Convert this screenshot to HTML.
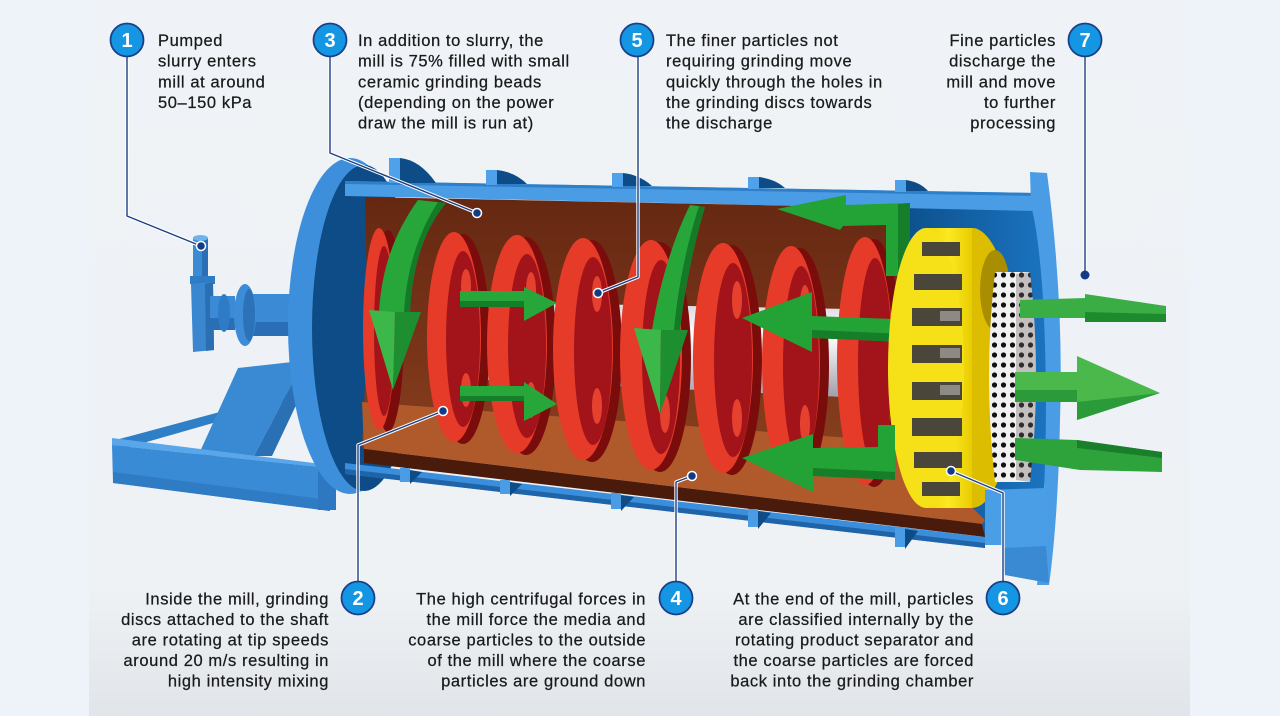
<!DOCTYPE html>
<html><head><meta charset="utf-8"><style>
html,body{margin:0;padding:0;background:#eef3fa;}
svg{display:block}
text{font-family:"Liberation Sans",sans-serif;}
.t{font-size:16.5px;fill:#1a1a1a;letter-spacing:0.6px;stroke:#1a1a1a;stroke-width:0.25px}
.n{font-size:20px;font-weight:bold;fill:#fff}
</style></head><body>
<svg width="1280" height="716" viewBox="0 0 1280 716" xmlns="http://www.w3.org/2000/svg">
<defs>
 <linearGradient id="bg" x1="0" y1="0" x2="0" y2="1">
  <stop offset="0" stop-color="#eff3f7"/>
  <stop offset="0.82" stop-color="#eef2f5"/>
  <stop offset="1" stop-color="#e1e5e9"/>
 </linearGradient>
 <linearGradient id="brown" x1="0" y1="0" x2="0" y2="1">
  <stop offset="0" stop-color="#662812"/>
  <stop offset="0.6" stop-color="#7a3519"/>
  <stop offset="1" stop-color="#8a421e"/>
 </linearGradient>
 <linearGradient id="shaft" x1="0" y1="0" x2="0" y2="1">
  <stop offset="0" stop-color="#d6d6de"/><stop offset="0.35" stop-color="#ffffff"/><stop offset="1" stop-color="#9c9aa6"/>
 </linearGradient>
 <linearGradient id="yel" x1="0" y1="0" x2="1" y2="0">
  <stop offset="0" stop-color="#f2d800"/><stop offset="0.5" stop-color="#fbe924"/><stop offset="1" stop-color="#e9cc00"/>
 </linearGradient>
 <linearGradient id="nav" x1="0" y1="0" x2="1" y2="0">
  <stop offset="0" stop-color="#0c4f8c"/><stop offset="1" stop-color="#1b74c0"/>
 </linearGradient>
 <pattern id="dots" width="9" height="10" patternUnits="userSpaceOnUse">
  <rect width="9" height="10" fill="#f1f1f1"/>
  <circle cx="4.5" cy="5" r="2.6" fill="#111"/>
 </pattern>
</defs>
<rect width="1280" height="716" fill="#eef3fa"/>
<rect x="89" width="1101" height="716" fill="url(#bg)"/>

<!-- ===== base frame ===== -->
<polygon points="112,441 290,393 297,399 122,449" fill="#2f7fc6"/>
<polygon points="198,456 238,368 292,362 298,372 254,456" fill="#3a8ad3"/>
<polygon points="254,456 298,372 308,380 272,456" fill="#2a70b5"/>
<polygon points="112,438 322,464 330,468 112,445" fill="#5aa6ea"/>
<polygon points="112,445 330,468 330,511 113,483" fill="#3a8bd6"/>
<polygon points="113,472 330,500 330,511 113,483" fill="#2f7cc4"/>
<rect x="318" y="466" width="18" height="44" fill="#2d78c0"/>

<!-- ===== feed pipe ===== -->
<rect x="193" y="238" width="15" height="42" fill="#3b8ad6"/>
<rect x="202" y="238" width="6" height="42" fill="#2a6fb5"/>
<ellipse cx="200.5" cy="238" rx="7.5" ry="3" fill="#6fb3ee"/>
<rect x="190" y="276" width="25" height="8" fill="#2f7cc6"/>
<polygon points="191,284 213,282 214,350 193,352" fill="#3a86cf"/>
<polygon points="205,284 213,282 214,350 206,351" fill="#2b6fb3"/>
<rect x="210" y="296" width="25" height="34" fill="#3b8ad6"/>
<rect x="210" y="318" width="25" height="12" fill="#2a6fb5"/>
<ellipse cx="224" cy="313" rx="6" ry="19" fill="#2f7cc6"/>
<rect x="248" y="294" width="50" height="42" fill="#3b8ad6"/>
<rect x="248" y="322" width="50" height="14" fill="#2a6fb5"/>
<ellipse cx="245" cy="315" rx="11" ry="31" fill="#3d8cd8"/>
<ellipse cx="249" cy="315" rx="6" ry="26" fill="#2b72b8"/>

<!-- ===== left end plate ===== -->
<ellipse cx="350" cy="326" rx="62" ry="168" fill="#3d8fdc"/>
<ellipse cx="364" cy="328" rx="52" ry="163" fill="#0d4c86"/>

<!-- ===== discharge inner region ===== -->
<polygon points="900,206 1036,210 1046,300 1047,450 1040,540 985,538 900,500" fill="url(#nav)"/>

<!-- ===== shell top band + ribs ===== -->
<polygon points="345,181 1036,193 1036,211 345,196" fill="#4a9de5"/>
<polygon points="345,181 1036,193 1036,196 345,184" fill="#2f7fc8"/>
<rect x="389" y="158" width="11" height="25" fill="#4fa2ea"/>
<path d="M400,158 Q420,160 436,183 L400,183 Z" fill="#0d4c86"/>
<rect x="486" y="170" width="11" height="15" fill="#4fa2ea"/>
<path d="M497,170 Q515,172 527,184 L497,184 Z" fill="#0d4c86"/>
<rect x="612" y="173" width="11" height="14" fill="#4fa2ea"/>
<path d="M623,173 Q640,175 652,186 L623,186 Z" fill="#0d4c86"/>
<rect x="748" y="177" width="11" height="12" fill="#4fa2ea"/>
<path d="M759,177 Q775,179 785,188 L759,188 Z" fill="#0d4c86"/>
<rect x="895" y="180" width="11" height="12" fill="#4fa2ea"/>
<path d="M906,180 Q920,182 928,191 L906,191 Z" fill="#0d4c86"/>

<!-- ===== interior brown ===== -->
<path d="M365,197 L905,208 L905,470 L362,447 Q369,330 365,197 Z" fill="url(#brown)"/>
<!-- floor -->
<polygon points="362,402 905,442 985,520 982,524 364,449" fill="#b05a2b"/>
<polygon points="364,449 982,524 985,537 364,463" fill="#4a1a0a"/>
<!-- bottom shell band -->
<polygon points="345,463 985,537 985,548 345,474" fill="#3a8edb"/>
<polygon points="345,469 985,543 985,548 345,474" fill="#1f64a8"/>
<!-- bottom ribs -->
<rect x="400" y="468" width="10" height="14" fill="#4a9de5"/><polygon points="410,470 422,472 410,484" fill="#0d4c86"/>
<rect x="500" y="480" width="10" height="14" fill="#4a9de5"/><polygon points="510,482 522,484 510,496" fill="#0d4c86"/>
<rect x="611" y="493" width="10" height="16" fill="#4a9de5"/><polygon points="621,495 634,497 621,511" fill="#0d4c86"/>
<rect x="748" y="509" width="10" height="18" fill="#4a9de5"/><polygon points="758,511 771,513 758,529" fill="#0d4c86"/>
<rect x="895" y="527" width="10" height="20" fill="#4a9de5"/><polygon points="905,529 918,531 905,549" fill="#0d4c86"/>

<!-- ===== shaft ===== -->
<polygon points="470,302 905,310 905,400 470,379" fill="url(#shaft)"/>

<!-- ===== discs ===== -->
<g>
 <ellipse cx="388" cy="331" rx="16" ry="101" fill="#7a0c0c"/>
 <ellipse cx="379" cy="329" rx="16" ry="101" fill="#e63b29"/>
 <ellipse cx="384" cy="331" rx="10" ry="85" fill="#a3141a"/>
</g>
<g>
 <ellipse cx="463" cy="339" rx="27" ry="105" fill="#7a0c0c"/>
 <ellipse cx="454" cy="337" rx="27" ry="105" fill="#e63b29"/>
 <ellipse cx="463" cy="339" rx="17" ry="88" fill="#a3141a"/>
 <ellipse cx="466" cy="286" rx="5" ry="17" fill="#e5412e"/>
 <ellipse cx="466" cy="390" rx="5" ry="17" fill="#e5412e"/>
</g>
<g>
 <ellipse cx="526" cy="346" rx="30" ry="109" fill="#7a0c0c"/>
 <ellipse cx="517" cy="344" rx="30" ry="109" fill="#e63b29"/>
 <ellipse cx="527" cy="346" rx="19" ry="92" fill="#a3141a"/>
 <ellipse cx="531" cy="290" rx="5" ry="18" fill="#e5412e"/>
 <ellipse cx="531" cy="400" rx="5" ry="18" fill="#e5412e"/>
</g>
<g>
 <ellipse cx="592" cy="351" rx="30" ry="111" fill="#7a0c0c"/>
 <ellipse cx="583" cy="349" rx="30" ry="111" fill="#e63b29"/>
 <ellipse cx="593" cy="351" rx="19" ry="94" fill="#a3141a"/>
 <ellipse cx="597" cy="294" rx="5" ry="18" fill="#e5412e"/>
 <ellipse cx="597" cy="406" rx="5" ry="18" fill="#e5412e"/>
</g>
<g>
 <ellipse cx="660" cy="357" rx="31" ry="115" fill="#7a0c0c"/>
 <ellipse cx="651" cy="355" rx="31" ry="115" fill="#e63b29"/>
 <ellipse cx="661" cy="357" rx="19" ry="97" fill="#a3141a"/>
 <ellipse cx="665" cy="298" rx="5" ry="19" fill="#e5412e"/>
 <ellipse cx="665" cy="414" rx="5" ry="19" fill="#e5412e"/>
</g>
<g>
 <ellipse cx="732" cy="360" rx="30" ry="115" fill="#7a0c0c"/>
 <ellipse cx="723" cy="358" rx="30" ry="115" fill="#e63b29"/>
 <ellipse cx="733" cy="360" rx="19" ry="97" fill="#a3141a"/>
 <ellipse cx="737" cy="300" rx="5" ry="19" fill="#e5412e"/>
 <ellipse cx="737" cy="418" rx="5" ry="19" fill="#e5412e"/>
</g>
<g>
 <ellipse cx="800" cy="365" rx="29" ry="117" fill="#7a0c0c"/>
 <ellipse cx="791" cy="363" rx="29" ry="117" fill="#e63b29"/>
 <ellipse cx="801" cy="365" rx="18" ry="99" fill="#a3141a"/>
 <ellipse cx="805" cy="304" rx="5" ry="19" fill="#e5412e"/>
 <ellipse cx="805" cy="424" rx="5" ry="19" fill="#e5412e"/>
</g>
<g>
 <ellipse cx="874" cy="363" rx="28" ry="124" fill="#7a0c0c"/>
 <ellipse cx="865" cy="361" rx="28" ry="124" fill="#e63b29"/>
 <ellipse cx="875" cy="363" rx="17" ry="105" fill="#a3141a"/>
</g>

<!-- ===== green arrows inside ===== -->
<path d="M418,200 C400,225 382,260 379,312 L410,312 C412,265 425,228 446,203 Z" fill="#27a63a"/>
<path d="M438,202 C420,230 407,265 404,312 L410,312 C412,265 425,228 446,203 Z" fill="#147a27"/>
<polygon points="369,310 395,312 393,390" fill="#3cb84b"/>
<polygon points="395,312 421,312 393,390" fill="#1d8f30"/>

<path d="M690,205 C675,235 660,280 652,330 L680,330 C685,285 695,240 705,207 Z" fill="#27a63a"/>
<path d="M699,206 C688,240 678,285 674,330 L680,330 C685,285 695,240 705,207 Z" fill="#147a27"/>
<polygon points="634,328 661,330 660,414" fill="#3cb84b"/>
<polygon points="661,330 688,330 660,414" fill="#1d8f30"/>

<polygon points="460,291 524,291 524,287 557,303 524,321 524,307 460,307" fill="#27a63a"/>
<polygon points="460,301 524,301 524,307 460,307" fill="#167e29"/>
<polygon points="460,386 524,386 524,382 557,404 524,421 524,401 460,401" fill="#27a63a"/>
<polygon points="460,396 524,396 524,401 460,401" fill="#167e29"/>

<path d="M777,209 L846,195 L846,205 L910,203 L910,276 L886,276 L886,225 L843,226 L840,230 Z" fill="#23a236"/>
<path d="M898,204 L910,203 L910,276 L898,276 Z" fill="#167e29"/>
<path d="M742,318 L812,292 L812,316 L948,321 L950,344 L812,338 L812,352 Z" fill="#23a236"/>
<path d="M812,330 L950,336 L950,344 L812,338 Z" fill="#167e29"/>

<!-- ===== yellow separator ===== -->
<ellipse cx="972" cy="368" rx="44" ry="140" fill="#dcbd00"/>
<rect x="926" y="228" width="46" height="280" fill="url(#yel)"/>
<ellipse cx="926" cy="368" rx="38" ry="140" fill="#f6e018"/>
<ellipse cx="995" cy="290" rx="15" ry="40" fill="#a88e00"/>
<g fill="#4a463a">
 <rect x="922" y="242" width="38" height="14"/>
 <rect x="914" y="274" width="48" height="16"/>
 <rect x="912" y="308" width="50" height="18"/>
 <rect x="912" y="345" width="50" height="18"/>
 <rect x="912" y="382" width="50" height="18"/>
 <rect x="912" y="418" width="50" height="18"/>
 <rect x="914" y="452" width="48" height="16"/>
 <rect x="922" y="482" width="38" height="14"/>
</g>
<g fill="#8d8a86">
 <rect x="940" y="311" width="20" height="10"/>
 <rect x="940" y="348" width="20" height="10"/>
 <rect x="940" y="385" width="20" height="10"/>
</g>

<!-- bottom L arrow -->
<path d="M742,458 L813,434 L813,448 L878,447 L878,425 L895,425 L895,480 L813,476 L813,492 Z" fill="#23a236"/>
<path d="M813,468 L895,472 L895,480 L813,476 Z" fill="#167e29"/>

<!-- ===== perforated drum ===== -->
<path d="M995,272 L1030,272 Q1042,376 1030,482 L995,482 Q983,376 995,272 Z" fill="url(#dots)"/>
<path d="M1016,274 L1030,272 Q1042,376 1030,482 L1016,480 Z" fill="#6d6060" opacity="0.35"/>

<!-- ===== right end flange ===== -->
<path d="M1030,172 L1047,173 Q1064,300 1060,420 Q1058,520 1049,585 L1037,585 Q1046,500 1046,400 Q1045,260 1031,205 Z" fill="#4a9de5"/>
<polygon points="985,490 1046,488 1049,583 1005,575 1003,545 985,545" fill="#4a9ee6"/>
<polygon points="1003,548 1046,546 1049,583 1005,575" fill="#3a8ad3"/>

<!-- ===== output arrows ===== -->
<polygon points="1020,300 1085,298 1085,294 1166,306 1166,322 1085,322 1085,318 1020,318" fill="#3aae45"/>
<polygon points="1085,312 1166,314 1166,322 1085,322" fill="#1e8a2e"/>
<polygon points="1015,372 1077,372 1077,356 1160,393 1077,420 1077,402 1015,402" fill="#4ab84a"/>
<polygon points="1015,390 1077,390 1077,402 1015,402" fill="#2b9a38"/>
<polygon points="1077,402 1077,420 1160,393" fill="#2b9a38"/>
<polygon points="1015,438 1077,440 1162,452 1162,472 1080,470 1015,460" fill="#2ea33c"/>
<polygon points="1077,440 1162,452 1162,458 1077,448" fill="#1a7f2a"/>

<!-- ===== leader lines ===== -->
<g fill="none" stroke="#ffffff" stroke-width="3.4" stroke-linejoin="round">
 <path d="M127,57 V216 L201,246"/>
 <path d="M330,57 V153 L477,213"/>
 <path d="M638,57 V277 L598,293"/>
 <path d="M1085,57 V275"/>
 <path d="M358,582 V445 L443,411"/>
 <path d="M676,582 V482 L692,476"/>
 <path d="M1003,582 V493 L951,471"/>
</g>
<g fill="none" stroke="#1d3f82" stroke-width="1.4" stroke-linejoin="round">
 <path d="M127,57 V216 L201,246"/>
 <path d="M330,57 V153 L477,213"/>
 <path d="M638,57 V277 L598,293"/>
 <path d="M1085,57 V275"/>
 <path d="M358,582 V445 L443,411"/>
 <path d="M676,582 V482 L692,476"/>
 <path d="M1003,582 V493 L951,471"/>
</g>
<g fill="#123b86" stroke="#ffffff" stroke-width="1.5">
 <circle cx="201" cy="246" r="4.5"/>
 <circle cx="477" cy="213" r="4.5"/>
 <circle cx="598" cy="293" r="4.5"/>
 <circle cx="1085" cy="275" r="4.5" stroke="none"/>
 <circle cx="443" cy="411" r="4.5"/>
 <circle cx="692" cy="476" r="4.5"/>
 <circle cx="951" cy="471" r="4.5"/>
</g>

<!-- ===== number circles ===== -->
<g fill="#1596e3" stroke="#1a3f8a" stroke-width="1.8">
 <circle cx="127" cy="40" r="16.5"/>
 <circle cx="330" cy="40" r="16.5"/>
 <circle cx="637" cy="40" r="16.5"/>
 <circle cx="1085" cy="40" r="16.5"/>
 <circle cx="358" cy="598" r="16.5"/>
 <circle cx="676" cy="598" r="16.5"/>
 <circle cx="1003" cy="598" r="16.5"/>
</g>
<g class="n" text-anchor="middle">
 <text x="127" y="47">1</text>
 <text x="330" y="47">3</text>
 <text x="637" y="47">5</text>
 <text x="1085" y="47">7</text>
 <text x="358" y="605">2</text>
 <text x="676" y="605">4</text>
 <text x="1003" y="605">6</text>
</g>

<!-- ===== text ===== -->
<g class="t">
 <text x="158" y="46">Pumped</text>
 <text x="158" y="66.7">slurry enters</text>
 <text x="158" y="87.4">mill at around</text>
 <text x="158" y="108">50–150 kPa</text>

 <text x="358" y="46">In addition to slurry, the</text>
 <text x="358" y="66.7">mill is 75% filled with small</text>
 <text x="358" y="87.4">ceramic grinding beads</text>
 <text x="358" y="108">(depending on the power</text>
 <text x="358" y="128.7">draw the mill is run at)</text>

 <text x="666" y="46">The finer particles not</text>
 <text x="666" y="66.7">requiring grinding move</text>
 <text x="666" y="87.4">quickly through the holes in</text>
 <text x="666" y="108">the grinding discs towards</text>
 <text x="666" y="128.7">the discharge</text>
</g>
<g class="t" text-anchor="end">
 <text x="1056" y="46">Fine particles</text>
 <text x="1056" y="66.7">discharge the</text>
 <text x="1056" y="87.4">mill and move</text>
 <text x="1056" y="108">to further</text>
 <text x="1056" y="128.7">processing</text>

 <text x="329" y="604.5">Inside the mill, grinding</text>
 <text x="329" y="625">discs attached to the shaft</text>
 <text x="329" y="645.5">are rotating at tip speeds</text>
 <text x="329" y="666">around 20 m/s resulting in</text>
 <text x="329" y="686.5">high intensity mixing</text>

 <text x="646" y="604.5">The high centrifugal forces in</text>
 <text x="646" y="625">the mill force the media and</text>
 <text x="646" y="645.5">coarse particles to the outside</text>
 <text x="646" y="666">of the mill where the coarse</text>
 <text x="646" y="686.5">particles are ground down</text>

 <text x="974" y="604.5">At the end of the mill, particles</text>
 <text x="974" y="625">are classified internally by the</text>
 <text x="974" y="645.5">rotating product separator and</text>
 <text x="974" y="666">the coarse particles are forced</text>
 <text x="974" y="686.5">back into the grinding chamber</text>
</g>
</svg>
</body></html>
